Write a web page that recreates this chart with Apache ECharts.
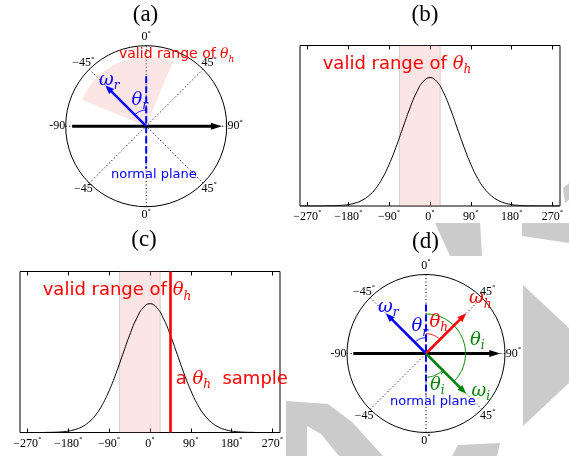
<!DOCTYPE html>
<html>
<head>
<meta charset="utf-8">
<title>valid range of theta_h</title>
<script src="https://cdn.jsdelivr.net/npm/echarts@6/dist/echarts.min.js"></script>
<style>html,body{margin:0;padding:0;background:#fff;}</style>
</head>
<body>
<div id="main" style="width:569px;height:456px;"></div>
<script>
// angles in degrees, 0 = surface normal, clockwise positive
var angleTicks = [-180, -135, -90, -45, 0, 45, 90, 135];
var angleTickText = ['0', '−45', '-90', '−45', '0', '45', '90', '45'];
var angleTickDeg = [true, false, false, true, true, true, true, true];

var thetaR = -45;      // reflected direction
var thetaH = 45;       // half vector
var thetaI = 135;      // incident direction
var validRange = [-67.5, 22.5];
var sampleTheta = 45;
var vectorLen = 0.72;

// distribution of theta_h, panels (b) and (c)
var xTicks = [-270, -180, -90, 0, 90, 180, 270];
var curveAngles = [-285, -270, -255, -240, -225, -210, -195, -180, -165, -150, -135, -120, -105, -90, -75, -60, -45, -30, -15, 0,
                   15, 30, 45, 60, 75, 90, 105, 120, 135, 150, 165, 180, 195, 210, 225, 240, 255, 270, 285];
var curveValues = [0, 0, 0, 0, 0.001, 0.002, 0.005, 0.011, 0.023, 0.044, 0.08, 0.135, 0.216, 0.325, 0.458, 0.607, 0.755, 0.882, 0.969, 1,
                   0.969, 0.882, 0.755, 0.607, 0.458, 0.325, 0.216, 0.135, 0.08, 0.044, 0.023, 0.011, 0.005, 0.002, 0.001, 0, 0, 0, 0];

var SERIF = 'Liberation Serif';
var MATH = 'DejaVu Serif';
var SANS = 'DejaVu Sans';
var PINK = 'rgba(245,170,170,0.3)';
var GREEN = '#007f00';

var curveData = curveAngles.map(function (a, i) { return [a, curveValues[i]]; });

var degRich = {
    n: {fontFamily: SERIF, fontSize: 12, lineHeight: 14, color: '#000', fill: '#000'},
    d: {fontFamily: SANS, fontSize: 7, lineHeight: 7, verticalAlign: 'top', color: '#000', fill: '#000'}
};

function degLabel(v) {
    var s = v < 0 ? '−' + (-v) : String(v);
    return '{n|' + s + '}{d|°}';
}

function xAxisFor(gi, pos) {
    return {
        gridIndex: gi, type: 'value', position: pos,
        min: -286.5, max: 286.5,
        axisLine: {show: false},
        splitLine: {show: false},
        axisTick: {show: true, inside: true, length: 4, customValues: xTicks,
                   lineStyle: {color: '#000', width: 1}},
        axisLabel: pos === 'bottom'
            ? {show: true, margin: 4, customValues: xTicks, formatter: degLabel, rich: degRich}
            : {show: false}
    };
}

function angleAxisFor(pi) {
    return {
        polarIndex: pi, type: 'value', min: -180, max: 180, interval: 45,
        startAngle: 270, clockwise: true,
        axisLine: {lineStyle: {color: '#000', width: 1}},
        axisTick: {show: false},
        axisLabel: {show: false},
        splitLine: {show: true, lineStyle: {color: '#111', width: 1, type: [1.2, 2.3]}}
    };
}

// ---- helpers used inside the polar custom series ----
function arrow(api, r0, a0, r1, a1, color, width, hl, hw) {
    var p0 = api.coord([r0, a0]), p1 = api.coord([r1, a1]);
    var dx = p1[0] - p0[0], dy = p1[1] - p0[1];
    var L = Math.sqrt(dx * dx + dy * dy);
    var ux = dx / L, uy = dy / L, nx = -uy, ny = ux;
    var bx = p1[0] - ux * hl, by = p1[1] - uy * hl;
    return [
        {type: 'line', shape: {x1: p0[0], y1: p0[1], x2: bx + ux, y2: by + uy},
         style: {stroke: color, lineWidth: width}},
        {type: 'polygon', shape: {points: [[p1[0], p1[1]], [bx + nx * hw / 2, by + ny * hw / 2], [bx - nx * hw / 2, by - ny * hw / 2]]},
         style: {fill: color}}
    ];
}

function arcPoints(api, r, a0, a1) {
    var pts = [];
    var n = Math.max(2, Math.ceil(Math.abs(a1 - a0) / 2));
    for (var k = 0; k <= n; k++) {
        pts.push(api.coord([r, a0 + (a1 - a0) * k / n]));
    }
    return pts;
}

function arc(api, r, a0, a1, color) {
    return {type: 'polyline', shape: {points: arcPoints(api, r, a0, a1)},
            style: {stroke: color, lineWidth: 1, fill: null}};
}

function normalLine(api) {
    var p0 = api.coord([0.62, 0]), p1 = api.coord([0.53, 180]);
    return {type: 'line', shape: {x1: p0[0], y1: p0[1], x2: p1[0], y2: p1[1]},
            style: {stroke: 'blue', lineWidth: 2, lineDash: [7, 3]}};
}

function angleLabels(api) {
    var c = api.coord([0, 0]), top = api.coord([1, 0]);
    var R = c[1] - top[1];
    return angleTicks.map(function (a, i) {
        var p = api.coord([1 + 8.5 / R, a]);
        return {
            type: 'text', x: p[0], y: p[1],
            style: {
                text: '{n|' + angleTickText[i] + '}' + (angleTickDeg[i] ? '{d|°}' : ''),
                rich: degRich, fill: '#000', align: 'center', verticalAlign: 'middle'
            }
        };
    });
}

function renderA(params, api) {
    var kids = [];
    var c = api.coord([0, 0]);
    kids.push({type: 'polygon', shape: {points: [c].concat(arcPoints(api, 0.86, validRange[0], validRange[1]))},
               style: {fill: PINK}});
    kids.push(normalLine(api));
    kids = kids.concat(arrow(api, 0.92, -90, 0.94, 90, '#000', 3, 11, 7));
    kids.push(arc(api, 0.2, thetaR, 0, 'blue'));
    kids = kids.concat(arrow(api, 0, thetaR, vectorLen, thetaR, 'blue', 2.5, 9, 7));
    kids = kids.concat(angleLabels(api));
    return {type: 'group', children: kids};
}

function renderD(params, api) {
    var kids = [];
    kids.push(normalLine(api));
    kids = kids.concat(arrow(api, 0.92, -90, 0.94, 90, '#000', 3, 11, 7));
    kids.push(arc(api, 0.2, thetaR, 0, 'blue'));
    kids.push(arc(api, 0.25, 0, thetaH, 'red'));
    kids.push(arc(api, 0.5, 0, thetaI, GREEN));
    kids.push(arc(api, 0.3, thetaI, 180, GREEN));
    kids = kids.concat(arrow(api, 0, thetaR, vectorLen, thetaR, 'blue', 2.5, 9, 7));
    kids = kids.concat(arrow(api, 0, thetaH, vectorLen, thetaH, 'red', 2.5, 9, 7));
    kids = kids.concat(arrow(api, 0, thetaI, vectorLen, thetaI, GREEN, 2.5, 9, 7));
    kids = kids.concat(angleLabels(api));
    return {type: 'group', children: kids};
}

// ---- annotation texts ----
function mathRich(color, size, subSize) {
    return {
        t: {fontFamily: SANS, fontSize: size, lineHeight: size + 6, color: color, fill: color},
        m: {fontFamily: MATH, fontStyle: 'italic', fontSize: size, lineHeight: size + 6, color: color, fill: color},
        s: {fontFamily: MATH, fontStyle: 'italic', fontSize: subSize, lineHeight: subSize, verticalAlign: 'bottom', color: color, fill: color}
    };
}

function note(x, y, text, color, size, subSize) {
    return {type: 'text', x: x, y: y, z: 10, silent: true,
            style: {text: text, fill: color, rich: mathRich(color, size, subSize), align: 'left', verticalAlign: 'middle'}};
}

function plain(x, y, text, color, font) {
    return {type: 'text', x: x, y: y, z: 10, silent: true,
            style: {text: text, fill: color, font: font, align: 'center', verticalAlign: 'middle'}};
}

function shade(points) {
    return {type: 'polygon', z: -1, silent: true, shape: {points: points}, style: {fill: '#cbcbcb'}};
}

var TITLE_FONT = '23px "Liberation Serif"';

var graphics = [
    // grey watermark behind the figure
    shade([[435, 223], [480, 223], [482, 256], [450, 256]]),
    shade([[522, 223], [569, 223], [569, 243], [522, 236]]),
    shade([[523, 285], [569, 328], [569, 383], [523, 426]]),
    shade([[286, 401], [328, 404], [352, 422], [383, 456], [339, 456], [321, 434], [307, 426], [307, 456], [286, 456]]),
    shade([[458, 445], [500, 443], [497, 456], [452, 456]]),
    shade([[563, 188], [569, 183], [569, 200], [565, 203]]),

    plain(145.5, 15, '(a)', '#000', TITLE_FONT),
    plain(425, 15, '(b)', '#000', TITLE_FONT),
    plain(144, 240, '(c)', '#000', TITLE_FONT),
    plain(425.5, 242, '(d)', '#000', TITLE_FONT),

    // (a)
    note(119, 54, '{t|valid range of }{m|θ}{s|h}', 'red', 14, 9),
    note(99, 80, '{m|ω}{s|r}', 'blue', 18, 12),
    note(131.5, 100, '{m|θ}{s|r}', 'blue', 18, 12),
    note(111, 175, '{t|normal plane}', 'blue', 13, 9),

    // (b)
    note(322.7, 64.3, '{t|valid range of }{m|θ}{s|h}', 'red', 18, 12),

    // (c)
    note(42.7, 290.7, '{t|valid range of }{m|θ}{s|h}', 'red', 18, 12),
    note(175.7, 379, '{t|a }{m|θ}{s|h}{t|  sample}', 'red', 18, 12),

    // (d)
    note(378, 307, '{m|ω}{s|r}', 'blue', 18, 12),
    note(411.5, 326.5, '{m|θ}{s|r}', 'blue', 18, 12),
    note(429.5, 322, '{m|θ}{s|h}', 'red', 18, 12),
    note(469, 298.5, '{m|ω}{s|h}', 'red', 18, 12),
    note(470, 340, '{m|θ}{s|i}', GREEN, 18, 12),
    note(430, 385, '{m|θ}{s|i}', GREEN, 18, 12),
    plain(442, 378, '′', GREEN, '14px "DejaVu Sans"'),
    note(471.5, 391, '{m|ω}{s|i}', GREEN, 18, 12),
    note(390, 402, '{t|normal plane}', 'blue', 13, 9)
];

var myChart = echarts.init(document.getElementById('main'));

var option = {
    animation: false,
    backgroundColor: '#fff',
    grid: [
        {left: 300, top: 45.5, width: 260, height: 160.5, show: true, borderColor: '#000', borderWidth: 1, backgroundColor: 'transparent'},
        {left: 20, top: 271.5, width: 260, height: 161, show: true, borderColor: '#000', borderWidth: 1, backgroundColor: 'transparent'}
    ],
    xAxis: [xAxisFor(0, 'bottom'), xAxisFor(0, 'top'), xAxisFor(1, 'bottom'), xAxisFor(1, 'top')],
    yAxis: [
        {gridIndex: 0, type: 'value', min: 0, max: 1.25, show: false},
        {gridIndex: 1, type: 'value', min: 0, max: 1.25, show: false}
    ],
    polar: [
        {center: [146.2, 126.2], radius: 80.5},
        {center: [426, 353.5], radius: 79}
    ],
    angleAxis: [angleAxisFor(0), angleAxisFor(1)],
    radiusAxis: [
        {polarIndex: 0, type: 'value', min: 0, max: 1, show: false},
        {polarIndex: 1, type: 'value', min: 0, max: 1, show: false}
    ],
    series: [
        {
            type: 'line', xAxisIndex: 0, yAxisIndex: 0, data: curveData,
            smooth: true, showSymbol: false, silent: true,
            lineStyle: {color: '#000', width: 1},
            markArea: {silent: true, itemStyle: {color: PINK, borderColor: 'rgba(0,0,0,0.15)', borderWidth: 1},
                       data: [[{xAxis: validRange[0]}, {xAxis: validRange[1]}]]}
        },
        {
            type: 'line', xAxisIndex: 2, yAxisIndex: 1, data: curveData,
            smooth: true, showSymbol: false, silent: true,
            lineStyle: {color: '#000', width: 1},
            markArea: {silent: true, itemStyle: {color: PINK, borderColor: 'rgba(0,0,0,0.15)', borderWidth: 1},
                       data: [[{xAxis: validRange[0]}, {xAxis: validRange[1]}]]},
            markLine: {silent: true, symbol: ['none', 'none'], label: {show: false},
                       lineStyle: {color: 'red', width: 2.6, type: 'solid'},
                       data: [{xAxis: sampleTheta}]}
        },
        {type: 'custom', coordinateSystem: 'polar', polarIndex: 0, silent: true, data: [[0, 0]], renderItem: renderA},
        {type: 'custom', coordinateSystem: 'polar', polarIndex: 1, silent: true, data: [[0, 0]], renderItem: renderD}
    ],
    graphic: {elements: graphics}
};

myChart.setOption(option);
</script>
</body>
</html>
